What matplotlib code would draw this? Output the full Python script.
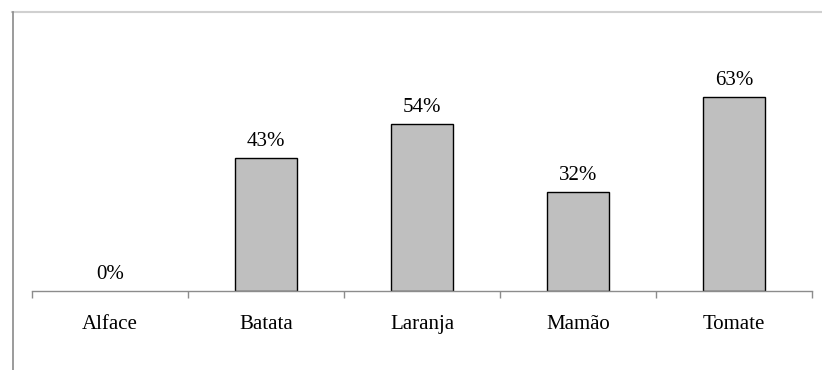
import matplotlib
matplotlib.use("Agg")
import matplotlib.pyplot as plt
from matplotlib.lines import Line2D
import numpy as np

categorias = ["Alface", "Batata", "Laranja", "Mamão", "Tomate"]
percentuais = [0, 43, 54, 32, 63]

plt.rcParams['font.family'] = ['Liberation Serif', 'DejaVu Serif']

W, H = 822, 370
fig = plt.figure(figsize=(W / 100, H / 100), dpi=100)
# eixo: x de 32 a 812 px, base em y=291 px
ax = fig.add_axes([32 / W, (H - 291) / H, 780 / W, (291 - 75) / H])

x = np.arange(len(categorias))
bordas = [1.0 if v > 0 else 0 for v in percentuais]
ax.bar(x, percentuais, width=0.4, color="#bfbfbf", edgecolor="black", linewidth=bordas)

for xi, v in zip(x, percentuais):
    ax.annotate(f"{v}%", (xi, v), xytext=(0, 5), textcoords="offset points",
                ha="center", va="bottom", fontsize=15)

ax.set_xlim(-0.5, len(categorias) - 0.5)
ax.set_ylim(0, 70)

for s in ["top", "right", "left"]:
    ax.spines[s].set_visible(False)
ax.spines["bottom"].set_color("#8c8c8c")
ax.spines["bottom"].set_linewidth(1.0)

ax.set_yticks([])
ax.set_xticks(np.arange(-0.5, len(categorias), 1.0))
ax.set_xticklabels([])
ax.set_xticks(x, minor=True)
ax.set_xticklabels(categorias, minor=True, fontsize=15)
ax.tick_params(axis="x", which="major", direction="out", length=5, color="#8c8c8c", width=1.0)
ax.tick_params(axis="x", which="minor", length=0, pad=17.5)

# moldura parcial do gráfico
fig.add_artist(Line2D([12 / W, 1], [1 - 12 / H, 1 - 12 / H], color="#d0d0d0", linewidth=1.5))
fig.add_artist(Line2D([12.5 / W, 12.5 / W], [0, 1 - 12 / H], color="#8a8a8a", linewidth=1.2))

fig.savefig("out.png", dpi=100)
